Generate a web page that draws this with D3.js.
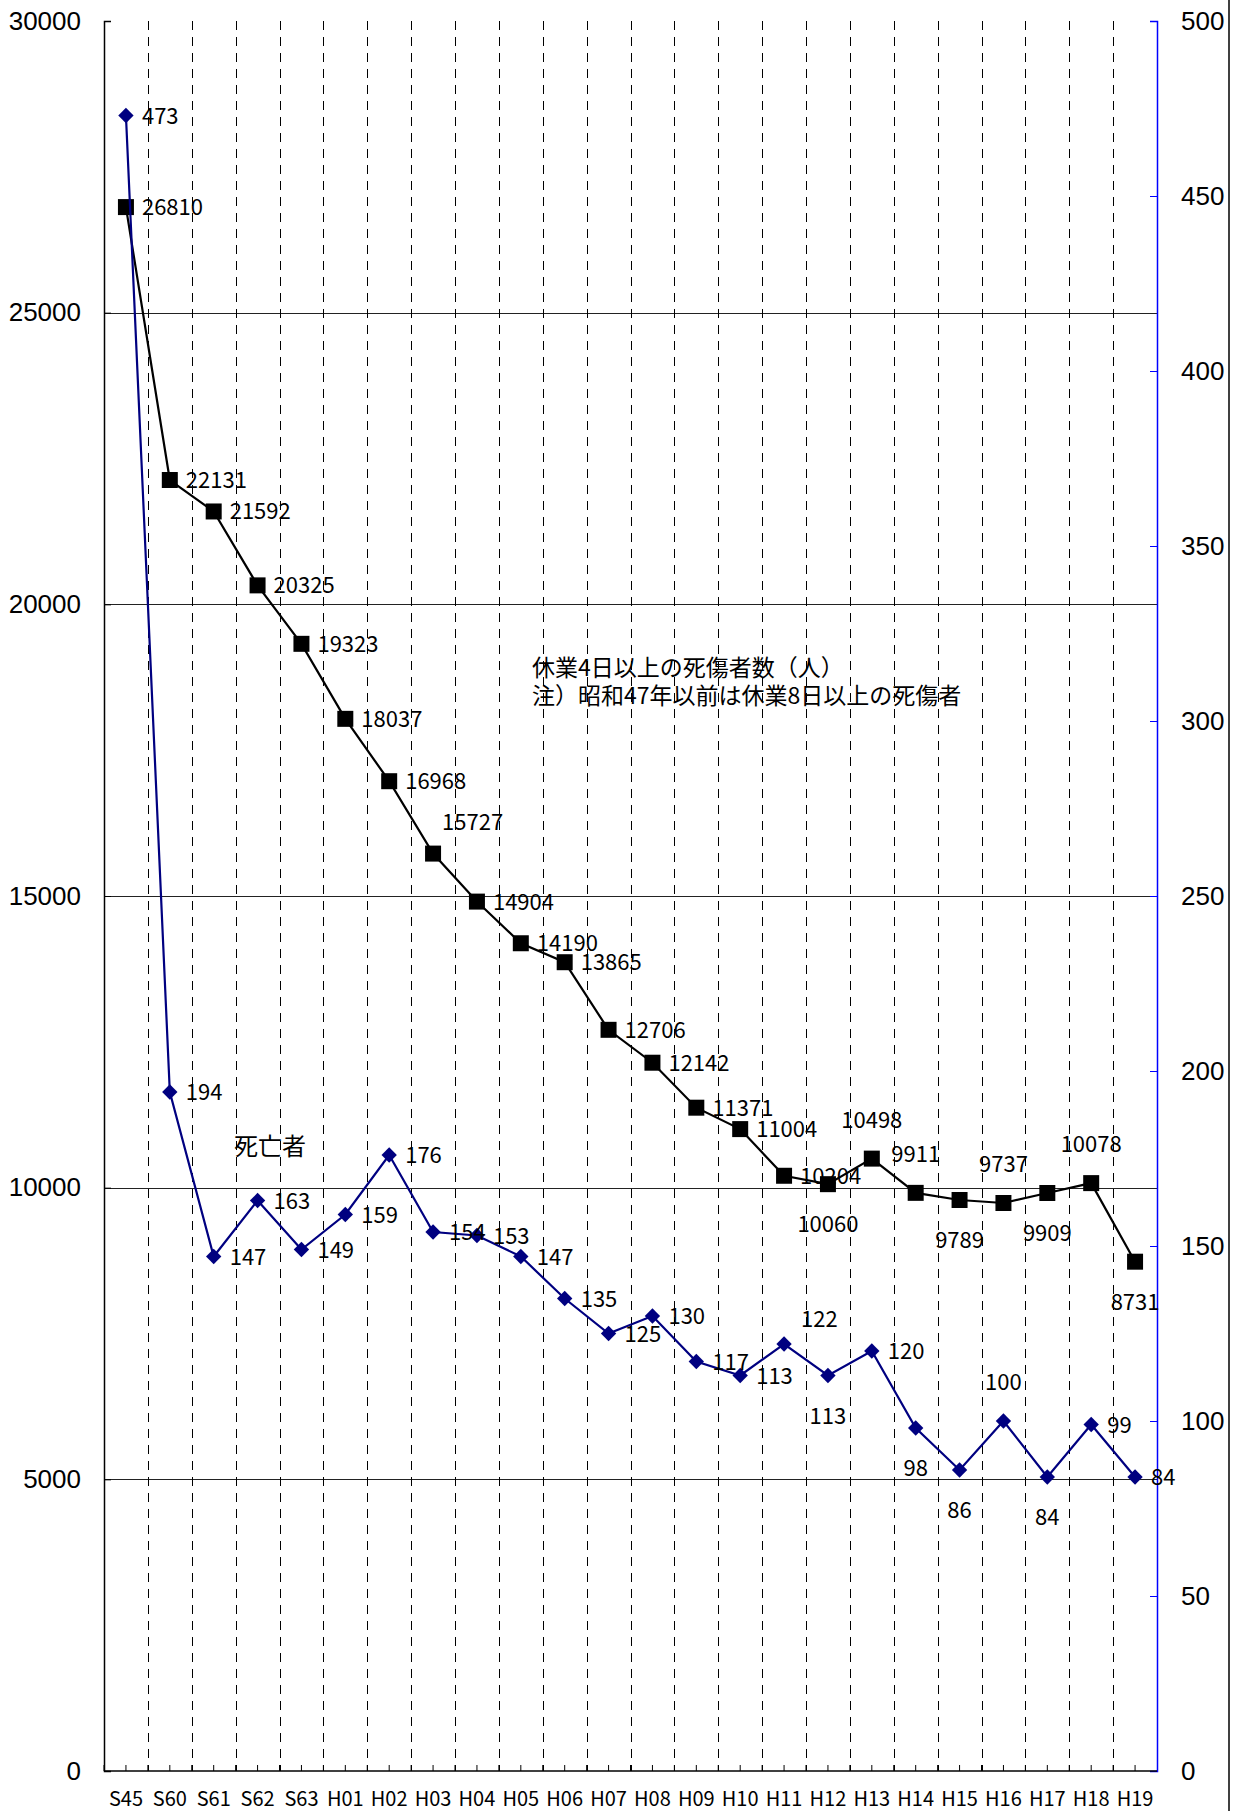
<!DOCTYPE html>
<html>
<head>
<meta charset="utf-8">
<script src="https://cdn.jsdelivr.net/npm/d3@7"></script>
<style>
  body { margin: 0; background: #fff; }
  svg { display: block; }
  text { font-family: "Noto Sans CJK JP", "Noto Sans", sans-serif; fill: #000; }
</style>
</head>
<body>
<svg width="1234" height="1811"></svg>
<script>
// categories (years)
const years = ["S45","S60","S61","S62","S63","H01","H02","H03","H04","H05","H06","H07","H08","H09","H10","H11","H12","H13","H14","H15","H16","H17","H18","H19"];
// injured (4+ days off work), left axis
const injured = [26810,22131,21592,20325,19323,18037,16968,15727,14904,14190,13865,12706,12142,11371,11004,10204,10060,10498,9911,9789,9737,9909,10078,8731];
// deaths, right axis
const deaths = [473,194,147,163,149,159,176,154,153,147,135,125,130,117,113,122,113,120,98,86,100,84,99,84];
// label placement per point: r = right, a = above, b = below, ar / ar2 = above right
const injuredPos = ["r","r","r","r","r","r","r","ar","r","r","r","r","r","r","r","r","b","a","a","b","a","b","a","b"];
const deathPos   = ["r","r","r","r","r","r","r","r","r","r","r","r","r","r","r","ar2","b","r","b","b","a","b","r","r"];
const leftTicks = [0,5000,10000,15000,20000,25000,30000];
const rightTicks = [0,50,100,150,200,250,300,350,400,450,500];

const svg = d3.select("svg");
const m = {left: 104, right: 1157, top: 21, bottom: 1771};

const x = d3.scaleBand().domain(years).range([m.left, m.right]);
const yL = d3.scaleLinear().domain([0, 30000]).range([m.bottom, m.top]);
const yR = d3.scaleLinear().domain([0, 500]).range([m.bottom, m.top]);
const cx = d => x(d) + x.bandwidth() / 2;

// horizontal gridlines
svg.append("g").selectAll("line")
  .data(leftTicks.filter(t => t > 0 && t < 30000))
  .enter().append("line")
  .attr("x1", m.left).attr("x2", m.right)
  .attr("y1", d => Math.round(yL(d)) + 0.5).attr("y2", d => Math.round(yL(d)) + 0.5)
  .attr("stroke", "#222").attr("stroke-width", 1);

// dashed vertical lines between categories
svg.append("g").selectAll("line")
  .data(years.slice(1))
  .enter().append("line")
  .attr("x1", d => Math.round(x(d)) + 0.5).attr("x2", d => Math.round(x(d)) + 0.5)
  .attr("y1", m.top).attr("y2", m.bottom)
  .attr("stroke", "#000").attr("stroke-width", 1)
  .attr("stroke-dasharray", "9,7");

// left axis
const leftAxis = d3.axisLeft(yL).tickValues(leftTicks).tickSize(-7).tickPadding(23).tickFormat(d3.format("d"));
const gl = svg.append("g").attr("transform", `translate(${m.left},0)`).call(leftAxis);
gl.select(".domain").attr("stroke", "#000").attr("stroke-width", 1.5);
gl.selectAll(".tick line").attr("stroke", "#000");
gl.selectAll("text").style("font-size", "26px").style("font-family", "'Liberation Sans', sans-serif").attr("fill", "#000");

// right axis
const rightAxis = d3.axisRight(yR).tickValues(rightTicks).tickSize(-7).tickPadding(24);
const gr = svg.append("g").attr("transform", `translate(${m.right},0)`).call(rightAxis);
gr.select(".domain").attr("stroke", "#0000ff").attr("stroke-width", 1.5);
gr.selectAll(".tick line").attr("stroke", "#0000ff");
gr.selectAll("text").style("font-size", "26px").style("font-family", "'Liberation Sans', sans-serif").attr("fill", "#000");

// bottom axis
svg.append("line").attr("x1", m.left).attr("x2", m.right)
  .attr("y1", m.bottom).attr("y2", m.bottom).attr("stroke", "#000").attr("stroke-width", 1.5);
const tickXs = years.map(d => x(d)).concat(years.map(cx));
svg.append("g").selectAll("line").data(tickXs).enter().append("line")
  .attr("x1", d => d).attr("x2", d => d)
  .attr("y1", m.bottom).attr("y2", m.bottom - 6)
  .attr("stroke", "#000");
svg.append("g").selectAll("text").data(years).enter().append("text")
  .attr("x", cx).attr("y", 1806)
  .attr("text-anchor", "middle")
  .style("font-size", "20px")
  .text(d => d);

// outer right border
svg.append("line").attr("x1", 1229).attr("x2", 1229).attr("y1", 0).attr("y2", 1811)
  .attr("stroke", "#000").attr("stroke-width", 1.5);

// injured line
const injData = years.map((d, i) => ({k: d, v: injured[i], p: injuredPos[i]}));
svg.append("path").datum(injData)
  .attr("fill", "none").attr("stroke", "#000").attr("stroke-width", 2.2)
  .attr("d", d3.line().x(d => cx(d.k)).y(d => yL(d.v)));
svg.append("g").selectAll("path").data(injData).enter().append("path")
  .attr("d", d3.symbol().type(d3.symbolSquare).size(256))
  .attr("transform", d => `translate(${cx(d.k)},${yL(d.v)})`)
  .attr("fill", "#000");

// deaths line
const dthData = years.map((d, i) => ({k: d, v: deaths[i], p: deathPos[i]}));
svg.append("path").datum(dthData)
  .attr("fill", "none").attr("stroke", "#000080").attr("stroke-width", 2.2)
  .attr("d", d3.line().x(d => cx(d.k)).y(d => yR(d.v)));
svg.append("g").selectAll("path").data(dthData).enter().append("path")
  .attr("d", d3.symbol().type(d3.symbolDiamond2).size(150))
  .attr("transform", d => `translate(${cx(d.k)},${yR(d.v)})`)
  .attr("fill", "#000080");

// data labels
const dx = {r: 16, ar: 9, ar2: 17, a: 0, b: 0};
const dy = {r: 8, ar: -24, ar2: -17, a: -31, b: 48};
function addLabels(data, y) {
  svg.append("g").selectAll("text").data(data).enter().append("text")
    .style("font-size", "22px")
    .attr("x", d => cx(d.k) + dx[d.p])
    .attr("y", d => y(d.v) + dy[d.p])
    .attr("text-anchor", d => d.p === "a" || d.p === "b" ? "middle" : "start")
    .text(d => d.v);
}
addLabels(injData, yL);
addLabels(dthData, yR);

// annotations
svg.append("text").attr("x", 234).attr("y", 1155).style("font-size", "24px").text("死亡者");
svg.append("text").attr("x", 532).attr("y", 676).style("font-size", "23px").text("休業4日以上の死傷者数（人）");
svg.append("text").attr("x", 532).attr("y", 704).style("font-size", "23px").text("注）昭和47年以前は休業8日以上の死傷者");
</script>
</body>
</html>
